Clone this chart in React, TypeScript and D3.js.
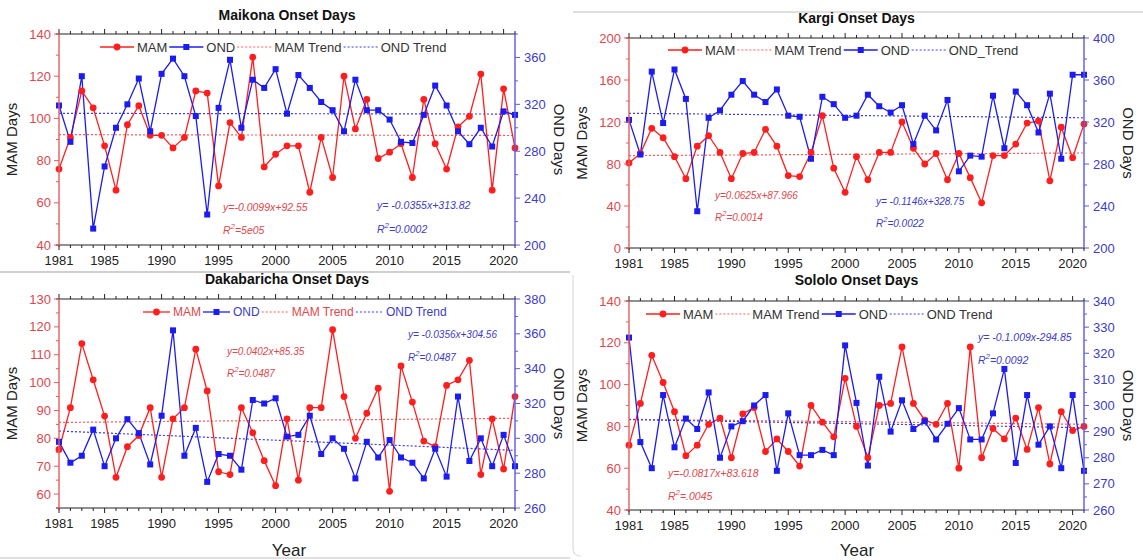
import React from 'react';
import * as d3 from 'd3';

const YEARS = [1981,1982,1983,1984,1985,1986,1987,1988,1989,1990,1991,1992,1993,1994,1995,1996,1997,1998,1999,2000,2001,2002,2003,2004,2005,2006,2007,2008,2009,2010,2011,2012,2013,2014,2015,2016,2017,2018,2019,2020,2021];
const X_LABELS = [1981,1985,1990,1995,2000,2005,2010,2015,2020];

const maikonaMAM = [76,91,113,105,87,66,97,106,92,92, 86,91,113,112,68,98,91,129,77,83, 87,87,65,91,72,120,95,109,81,84, 88,72,109,88,76,96,101,121,66,114, 86];
const maikonaOND = [319,288,344,214,267,300,320,342,297,346, 359,344,310,226,317,358,300,341,334,350, 312,345,334,322,315,297,341,315,315,307, 288,287,311,336,319,297,286,300,284,314, 311];
const maikonaMAMTrend = [92.3, 91.9];
const maikonaONDTrend = [312.3, 311.7];

const kargiMAM = [81,90,114,105,87,66,97,107,91,66, 90,91,113,97,69,68,91,126,76,53, 87,65,91,91,120,95,80,90,65,90, 67,43,88,88,99,119,121,64,115,86, 118];
const kargiOND = [322,289,368,319,370,342,235,324,331,346, 359,346,339,351,326,325,285,344,337,324, 326,346,335,329,336,299,326,312,341,273, 288,287,345,295,349,336,310,347,285,365, 365];
const kargiMAMTrend = [88, 90.5];
const kargiONDTrend = [328.3, 324];

const dakaMAM = [76,91,114,101,88,66,77,81,91,66, 87,91,112,97,68,67,91,82,72,63, 87,65,91,91,119,95,80,89,98,61, 106,93,79,77,99,101,108,67,87,69, 95];
const dakaOND = [298,286,290,305,284,300,311,303,285,313, 362,290,306,275,291,290,282,322,320,323, 301,302,313,291,300,294,277,298,289,299, 289,286,277,294,278,324,287,300,284,302, 284];
const dakaMAMTrend = [85.7, 87.2];
const dakaONDTrend = [304.2, 293.1];

const sololoMAM = [71,91,114,101,87,66,71,81,84,65, 86,89,68,74,68,61,90,82,75,103, 80,65,90,91,118,91,83,81,91,60, 118,65,79,74,84,69,89,62,87,78, 80];
const sololoOND = [326,286,276,304,284,295,291,305,280,292, 294,300,304,275,297,281,281,283,281,323, 301,277,311,290,302,291,294,287,293,299, 287,287,297,314,278,304,285,292,276,304, 275];
const sololoMAMTrend = [83.4, 81];
const sololoONDTrend = [294.6, 291.5];

const FONT = "'Liberation Sans', Arial, Helvetica, sans-serif";
const RED = '#ff1e1e';
const BLUE = '#1c1cf0';
const RED_AX = '#e85c5c';
const BLUE_AX = '#5a5ae8';
const RED_TXT = '#e0484c';
const BLUE_TXT = '#3c3cc8';
const R_DOT = 3.4;
const SQ = 6;

let ctx: CanvasRenderingContext2D | null = null;
function textW(t: string, size: number, weight = 'normal') {
  if (!ctx) ctx = document.createElement('canvas').getContext('2d');
  if (!ctx) return t.length * size * 0.55;
  ctx.font = `${weight} ${size}px ${FONT}`;
  return ctx.measureText(t).width;
}

type Eq = { eq: string; r2: string; x: number; y: number; y2: number; fs: number };
type Cfg = {
  title: string; titleY: number;
  left: number; right: number; top: number; bottom: number;
  mamDomain: [number, number]; mamMajor: number; mamMinor: number;
  ondDomain: [number, number]; ondMajor: number; ondMinor: number;
  mam: number[]; ond: number[]; mamTrend: number[]; ondTrend: number[];
  legend: { x: number; y: number; order: string[]; seg: number; fs: number; colored: boolean };
  mamEq: Eq; ondEq: Eq;
  yearLabel?: { x: number; y: number };
};

const panels: Cfg[] = [
  {
    title: 'Maikona Onset Days', titleY: 20,
    left: 59, right: 515, top: 34, bottom: 245,
    mamDomain: [40, 140], mamMajor: 20, mamMinor: 10,
    ondDomain: [200, 380], ondMajor: 40, ondMinor: 20,
    mam: maikonaMAM, ond: maikonaOND, mamTrend: maikonaMAMTrend, ondTrend: maikonaONDTrend,
    legend: { x: 100, y: 47, order: ['MAM', 'OND', 'MAM Trend', 'OND Trend'], seg: 34, fs: 13, colored: false },
    mamEq: { eq: 'y=-0.0099x+92.55', r2: '=5e05', x: 223, y: 211, y2: 234, fs: 10.5 },
    ondEq: { eq: 'y= -0.0355x+313.82', r2: '=0.0002', x: 377, y: 209, y2: 233, fs: 10.5 },
  },
  {
    title: 'Kargi Onset Days', titleY: 23,
    left: 629, right: 1084, top: 38, bottom: 248,
    mamDomain: [0, 200], mamMajor: 40, mamMinor: 20,
    ondDomain: [200, 400], ondMajor: 40, ondMinor: 20,
    mam: kargiMAM, ond: kargiOND, mamTrend: kargiMAMTrend, ondTrend: kargiONDTrend,
    legend: { x: 668, y: 50, order: ['MAM', 'MAM Trend', 'OND', 'OND_Trend'], seg: 34, fs: 13, colored: false },
    mamEq: { eq: 'y=0.0625x+87.966', r2: '=0.0014', x: 715, y: 199, y2: 221, fs: 10 },
    ondEq: { eq: 'y= -0.1146x+328.75', r2: '=0.0022', x: 876, y: 205, y2: 227, fs: 10 },
  },
  {
    title: 'Dakabaricha Onset Days', titleY: 284,
    left: 59, right: 515, top: 299, bottom: 508,
    mamDomain: [55, 130], mamMajor: 10, mamMinor: 5,
    ondDomain: [260, 380], ondMajor: 20, ondMinor: 10,
    mam: dakaMAM, ond: dakaOND, mamTrend: dakaMAMTrend, ondTrend: dakaONDTrend,
    legend: { x: 143, y: 312, order: ['MAM', 'OND', 'MAM Trend', 'OND Trend'], seg: 27, fs: 12, colored: true },
    mamEq: { eq: 'y=0.0402x+85.35', r2: '=0.0487', x: 227, y: 355, y2: 377, fs: 10 },
    ondEq: { eq: 'y= -0.0356x+304.56', r2: '=0.0487', x: 408, y: 338, y2: 361, fs: 10 },
    yearLabel: { x: 289, y: 556 },
  },
  {
    title: 'Sololo Onset Days', titleY: 285,
    left: 629, right: 1084, top: 301, bottom: 510,
    mamDomain: [40, 140], mamMajor: 20, mamMinor: 10,
    ondDomain: [260, 340], ondMajor: 10, ondMinor: 5,
    mam: sololoMAM, ond: sololoOND, mamTrend: sololoMAMTrend, ondTrend: sololoONDTrend,
    legend: { x: 646, y: 314, order: ['MAM', 'MAM Trend', 'OND', 'OND Trend'], seg: 34, fs: 13, colored: false },
    mamEq: { eq: 'y=-0.0817x+83.618', r2: '=.0045', x: 668, y: 477, y2: 500, fs: 10.5 },
    ondEq: { eq: 'y= -0.1.009x-294.85', r2: '=0.0092', x: 978, y: 341, y2: 364, fs: 10.5 },
    yearLabel: { x: 857, y: 556 },
  },
];

function ticks(domain: [number, number], major: number, minor: number) {
  const out: { v: number; major: boolean }[] = [];
  for (let v = domain[0]; v <= domain[1] + 1e-9; v += minor) {
    const r = v / major;
    out.push({ v, major: Math.abs(r - Math.round(r)) < 1e-9 });
  }
  return out;
}

function Panel({ c }: { c: Cfg }) {
  const x = d3.scaleLinear().domain([1981, 2021]).range([c.left, c.right]);
  const yL = d3.scaleLinear().domain(c.mamDomain).range([c.bottom, c.top]);
  const yR = d3.scaleLinear().domain(c.ondDomain).range([c.bottom, c.top]);
  const lineL = d3.line<number>().x((_, i) => x(YEARS[i])).y((d) => yL(d));
  const lineR = d3.line<number>().x((_, i) => x(YEARS[i])).y((d) => yR(d));
  const cx = (c.left + c.right) / 2;
  const cy = (c.top + c.bottom) / 2;
  const lt = ticks(c.mamDomain, c.mamMajor, c.mamMinor);
  const rt = ticks(c.ondDomain, c.ondMajor, c.ondMinor);

  let lx = c.legend.x;
  const legendItems = c.legend.order.map((name) => {
    const isMAM = name.startsWith('MAM');
    const color = isMAM ? RED : BLUE;
    const trend = name.includes('Trend');
    const x0 = lx;
    const x1 = lx + c.legend.seg;
    const tx = x1 + 3;
    lx = tx + textW(name, c.legend.fs) + 2;
    const ly = c.legend.y;
    const mid = (x0 + x1) / 2;
    return (
      <g key={name}>
        <line x1={x0} x2={x1} y1={ly} y2={ly} stroke={trend ? (isMAM ? '#ff5a5a' : '#3c3cf0') : color}
          strokeWidth={trend ? 1.2 : 1.3} strokeDasharray={trend ? '2,2' : undefined} />
        {!trend && isMAM && <circle cx={mid} cy={ly} r={R_DOT} fill={color} />}
        {!trend && !isMAM && <rect x={mid - SQ / 2} y={ly - SQ / 2} width={SQ} height={SQ} fill={color} />}
        <text x={tx} y={ly + c.legend.fs * 0.36} fontSize={c.legend.fs}
          fill={c.legend.colored ? (isMAM ? RED_TXT : BLUE_TXT) : '#333'}>{name}</text>
      </g>
    );
  });

  const eqText = (e: Eq, color: string) => (
    <g fill={color} fontStyle="italic" fontSize={e.fs}>
      <text x={e.x} y={e.y}>{e.eq}</text>
      <text x={e.x} y={e.y2}>R<tspan dy={-5} fontSize={e.fs * 0.75}>2</tspan><tspan dy={5}>{e.r2}</tspan></text>
    </g>
  );

  return (
    <g>
      <text x={cx} y={c.titleY} textAnchor="middle" fontWeight="bold" fontSize={14} fill="#111">{c.title}</text>
      <line x1={x(1981)} x2={x(2021)} y1={yL(c.mamTrend[0])} y2={yL(c.mamTrend[1])} stroke="#ff5a5a" strokeWidth={1.2} strokeDasharray="2,2" />
      <line x1={x(1981)} x2={x(2021)} y1={yR(c.ondTrend[0])} y2={yR(c.ondTrend[1])} stroke="#3c3cf0" strokeWidth={1.2} strokeDasharray="2,2" />
      <path d={lineL(c.mam) || ''} fill="none" stroke={RED} strokeWidth={1.3} />
      <path d={lineR(c.ond) || ''} fill="none" stroke={BLUE} strokeWidth={1.3} />
      {c.mam.map((d, i) => <circle key={'m' + i} cx={x(YEARS[i])} cy={yL(d)} r={R_DOT} fill={RED} />)}
      {c.ond.map((d, i) => <rect key={'o' + i} x={x(YEARS[i]) - SQ / 2} y={yR(d) - SQ / 2} width={SQ} height={SQ} fill={BLUE} />)}
      <line x1={c.left - 3} x2={c.right} y1={c.top} y2={c.top} stroke="#222" strokeWidth={1.2} />
      <line x1={c.left - 3} x2={c.right} y1={c.bottom} y2={c.bottom} stroke="#222" strokeWidth={1.2} />
      <line x1={c.left} x2={c.left} y1={c.top} y2={c.bottom + 2} stroke={RED_AX} strokeWidth={1.4} />
      <line x1={c.right} x2={c.right} y1={c.top - 1} y2={c.bottom + 1} stroke={BLUE_AX} strokeWidth={1.4} />
      {YEARS.map((yr) => {
        const maj = X_LABELS.includes(yr);
        const len = maj ? 5 : 3;
        return (
          <g key={'xt' + yr} stroke="#222" strokeWidth={1}>
            <line x1={x(yr)} x2={x(yr)} y1={c.bottom} y2={c.bottom + len} />
            <line x1={x(yr)} x2={x(yr)} y1={c.top} y2={c.top - len} />
          </g>
        );
      })}
      {X_LABELS.map((yr) => (
        <text key={'xl' + yr} x={x(yr)} y={c.bottom + 20} textAnchor="middle" fontSize={13} fill="#222">{yr}</text>
      ))}
      {lt.map((t) => (
        <g key={'lt' + t.v}>
          <line x1={c.left} x2={c.left - (t.major ? 5 : 3)} y1={yL(t.v)} y2={yL(t.v)} stroke={RED_AX} strokeWidth={1} />
          {t.major && <text x={c.left - 8} y={yL(t.v) + 4.5} textAnchor="end" fontSize={13} fill={RED_TXT}>{t.v}</text>}
        </g>
      ))}
      {rt.map((t) => (
        <g key={'rt' + t.v}>
          <line x1={c.right} x2={c.right + (t.major ? 5 : 3)} y1={yR(t.v)} y2={yR(t.v)} stroke={BLUE_AX} strokeWidth={1} />
          {t.major && <text x={c.right + 9} y={yR(t.v) + 4.5} textAnchor="start" fontSize={13} fill={BLUE_TXT}>{t.v}</text>}
        </g>
      ))}
      <text transform={`translate(${c.left - 42},${cy}) rotate(-90)`} textAnchor="middle" fontSize={15} fill="#222">MAM Days</text>
      <text transform={`translate(${c.right + 39},${cy}) rotate(90)`} textAnchor="middle" fontSize={15} fill="#222">OND Days</text>
      {legendItems}
      {eqText(c.mamEq, RED_TXT)}
      {eqText(c.ondEq, BLUE_TXT)}
      {c.yearLabel && <text x={c.yearLabel.x} y={c.yearLabel.y} textAnchor="middle" fontSize={17} fill="#222">Year</text>}
    </g>
  );
}

export default function App() {
  return (
    <svg width={1143} height={560} style={{ position: 'absolute', left: 0, top: 0, background: '#fff' }} fontFamily={FONT}>
      <rect x={0} y={0} width={1143} height={560} fill="#fff" />
      <line x1={0} x2={570} y1={272} y2={272} stroke="#cfcfcf" strokeWidth={2} />
      <line x1={573} x2={1143} y1={12} y2={12} stroke="#d6d6d6" strokeWidth={1.5} />
      <line x1={0} x2={570} y1={558} y2={558} stroke="#d6d6d6" strokeWidth={1.5} />
      <path d="M573,275 L573,548 Q573,556 581,556" fill="none" stroke="#dcdcdc" strokeWidth={1.2} />
      {panels.map((p) => <Panel key={p.title} c={p} />)}
    </svg>
  );
}
